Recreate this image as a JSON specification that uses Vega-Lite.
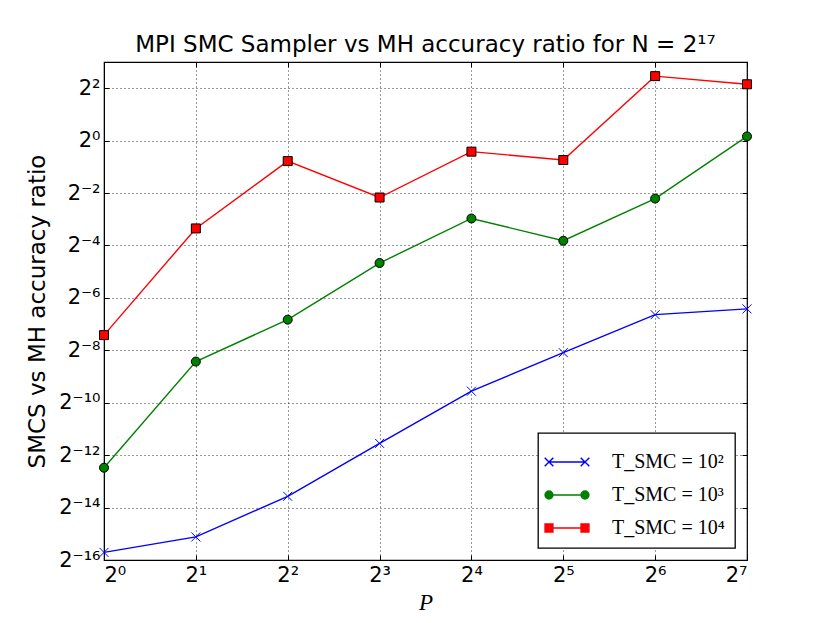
{
  "$schema": "https://vega.github.io/schema/vega-lite/v6.json",
  "autosize": {"type": "none"},
  "padding": {"left": 104, "top": 62, "right": 83, "bottom": 63},
  "width": 643,
  "height": 498,
  "background": "white",
  "title": {
    "text": "MPI SMC Sampler vs MH accuracy ratio for N = 2¹⁷",
    "font": "DejaVu Sans",
    "fontSize": 23,
    "fontWeight": "normal",
    "color": "black",
    "offset": 5
  },
  "config": {
    "view": {"stroke": "black", "strokeWidth": 1.2},
    "axis": {
      "labelFont": "DejaVu Sans",
      "labelFontSize": 21,
      "labelColor": "black",
      "titleFont": "DejaVu Sans",
      "titleFontSize": 23,
      "titleFontWeight": "normal",
      "titleColor": "black",
      "grid": true,
      "gridColor": "black",
      "gridDash": [1, 3],
      "gridWidth": 0.8,
      "gridOpacity": 1,
      "domainColor": "black",
      "tickColor": "black",
      "tickSize": -5,
      "labelPadding": 9
    }
  },
  "data": {
    "values": [
      {"P": 1, "ratio": 0.000018656, "series": "T_SMC = 10²"},
      {"P": 2, "ratio": 0.000028086, "series": "T_SMC = 10²"},
      {"P": 4, "ratio": 0.000082227, "series": "T_SMC = 10²"},
      {"P": 8, "ratio": 0.0003335, "series": "T_SMC = 10²"},
      {"P": 16, "ratio": 0.0013248, "series": "T_SMC = 10²"},
      {"P": 32, "ratio": 0.00367, "series": "T_SMC = 10²"},
      {"P": 64, "ratio": 0.010027, "series": "T_SMC = 10²"},
      {"P": 128, "ratio": 0.011678, "series": "T_SMC = 10²"},
      {"P": 1, "ratio": 0.00017508, "series": "T_SMC = 10³"},
      {"P": 2, "ratio": 0.0028996, "series": "T_SMC = 10³"},
      {"P": 4, "ratio": 0.00879, "series": "T_SMC = 10³"},
      {"P": 8, "ratio": 0.039281, "series": "T_SMC = 10³"},
      {"P": 16, "ratio": 0.12763, "series": "T_SMC = 10³"},
      {"P": 32, "ratio": 0.070806, "series": "T_SMC = 10³"},
      {"P": 64, "ratio": 0.21613, "series": "T_SMC = 10³"},
      {"P": 128, "ratio": 1.1173, "series": "T_SMC = 10³"},
      {"P": 1, "ratio": 0.005839, "series": "T_SMC = 10⁴"},
      {"P": 2, "ratio": 0.098075, "series": "T_SMC = 10⁴"},
      {"P": 4, "ratio": 0.5824, "series": "T_SMC = 10⁴"},
      {"P": 8, "ratio": 0.2222, "series": "T_SMC = 10⁴"},
      {"P": 16, "ratio": 0.7474, "series": "T_SMC = 10⁴"},
      {"P": 32, "ratio": 0.5987, "series": "T_SMC = 10⁴"},
      {"P": 64, "ratio": 5.502, "series": "T_SMC = 10⁴"},
      {"P": 128, "ratio": 4.4385, "series": "T_SMC = 10⁴"}
    ]
  },
  "layer": [
    {
      "mark": {"type": "line", "strokeWidth": 1.4},
      "encoding": {
        "x": {
          "field": "P",
          "type": "quantitative",
          "scale": {"type": "log", "base": 2, "domain": [1, 128], "nice": false},
          "axis": {
            "values": [1, 2, 4, 8, 16, 32, 64, 128],
            "title": "P",
            "titleFont": "Liberation Serif",
            "titleFontStyle": "italic",
            "titleFontSize": 23,
            "titlePadding": 6,
            "labelExpr": "'2' + ['⁰','¹','²','³','⁴','⁵','⁶','⁷','⁸','⁹'][round(log(datum.value)/LN2)]"
          }
        },
        "y": {
          "field": "ratio",
          "type": "quantitative",
          "scale": {"type": "log", "base": 2, "domain": [0.0000152587890625, 8], "nice": false},
          "axis": {
            "values": [0.0000152587890625, 0.00006103515625, 0.000244140625, 0.0009765625, 0.00390625, 0.015625, 0.0625, 0.25, 1, 4],
            "title": "SMCS vs MH accuracy ratio",
            "titlePadding": 9,
            "labelExpr": "'2' + (round(log(datum.value)/LN2) < 0 ? '⁻' : '') + (abs(round(log(datum.value)/LN2)) >= 10 ? ['⁰','¹','²','³','⁴','⁵','⁶','⁷','⁸','⁹'][floor(abs(round(log(datum.value)/LN2))/10)] : '') + ['⁰','¹','²','³','⁴','⁵','⁶','⁷','⁸','⁹'][abs(round(log(datum.value)/LN2)) % 10]"
          }
        },
        "color": {
          "field": "series",
          "type": "nominal",
          "scale": {
            "domain": ["T_SMC = 10²", "T_SMC = 10³", "T_SMC = 10⁴"],
            "range": ["#0000ff", "#008000", "#ff0000"]
          },
          "legend": {
            "title": null,
            "orient": "bottom-right",
            "offset": 12,
            "padding": 10,
            "strokeColor": "black",
            "fillColor": "white",
            "cornerRadius": 0,
            "symbolSize": 1296,
            "labelFont": "Liberation Serif",
            "labelFontSize": 20,
            "labelColor": "black",
            "labelOffset": 26,
            "rowPadding": 4,
            "encode": {
              "legend": {
                "update": {"strokeWidth": {"value": 1.3}}
              },
              "symbols": {
                "update": {
                  "shape": {"signal": "indexof(datum.value, '²') >= 0 ? 'M-1,0L1,0M-1.24,-0.24L-0.76,0.24M-1.24,0.24L-0.76,-0.24M0.76,-0.24L1.24,0.24M0.76,0.24L1.24,-0.24' : indexof(datum.value, '³') >= 0 ? 'M-1,0L1,0M-0.78,0A0.22,0.22,0,1,1,-1.22,0A0.22,0.22,0,1,1,-0.78,0ZM1.22,0A0.22,0.22,0,1,1,0.78,0A0.22,0.22,0,1,1,1.22,0Z' : 'M-1,0L1,0M-1.22,-0.22L-0.78,-0.22L-0.78,0.22L-1.22,0.22ZM0.78,-0.22L1.22,-0.22L1.22,0.22L0.78,0.22Z'"},
                  "fill": {"signal": "indexof(datum.value, '²') >= 0 ? 'transparent' : indexof(datum.value, '³') >= 0 ? '#008000' : '#ff0000'"},
                  "stroke": {"signal": "indexof(datum.value, '²') >= 0 ? '#0000ff' : indexof(datum.value, '³') >= 0 ? '#008000' : '#ff0000'"},
                  "strokeWidth": {"value": 1.4},
                  "opacity": {"value": 1}
                }
              }
            }
          }
        }
      }
    },
    {
      "transform": [{"filter": "datum.series == 'T_SMC = 10²'"}],
      "mark": {"type": "point", "shape": "M-1,-1L1,1M-1,1L1,-1", "size": 81, "filled": false, "stroke": "#0000ff", "strokeWidth": 1, "opacity": 1},
      "encoding": {
        "x": {"field": "P", "type": "quantitative", "scale": {"type": "log", "base": 2, "domain": [1, 128], "nice": false}, "axis": null},
        "y": {"field": "ratio", "type": "quantitative", "scale": {"type": "log", "base": 2, "domain": [0.0000152587890625, 8], "nice": false}, "axis": null}
      }
    },
    {
      "transform": [{"filter": "datum.series == 'T_SMC = 10³'"}],
      "mark": {"type": "point", "shape": "circle", "size": 81, "filled": true, "fill": "#008000", "stroke": "black", "strokeWidth": 1, "opacity": 1},
      "encoding": {
        "x": {"field": "P", "type": "quantitative", "scale": {"type": "log", "base": 2, "domain": [1, 128], "nice": false}, "axis": null},
        "y": {"field": "ratio", "type": "quantitative", "scale": {"type": "log", "base": 2, "domain": [0.0000152587890625, 8], "nice": false}, "axis": null}
      }
    },
    {
      "transform": [{"filter": "datum.series == 'T_SMC = 10⁴'"}],
      "mark": {"type": "point", "shape": "square", "size": 81, "filled": true, "fill": "#ff0000", "stroke": "black", "strokeWidth": 1, "opacity": 1},
      "encoding": {
        "x": {"field": "P", "type": "quantitative", "scale": {"type": "log", "base": 2, "domain": [1, 128], "nice": false}, "axis": null},
        "y": {"field": "ratio", "type": "quantitative", "scale": {"type": "log", "base": 2, "domain": [0.0000152587890625, 8], "nice": false}, "axis": null}
      }
    },
    {
      "mark": {"type": "point", "opacity": 0},
      "encoding": {
        "x": {
          "field": "P", "type": "quantitative",
          "scale": {"type": "log", "base": 2, "domain": [1, 128], "nice": false},
          "axis": {"orient": "top", "values": [1, 2, 4, 8, 16, 32, 64, 128], "labels": false, "title": null, "grid": false, "domain": false}
        },
        "y": {
          "field": "ratio", "type": "quantitative",
          "scale": {"type": "log", "base": 2, "domain": [0.0000152587890625, 8], "nice": false},
          "axis": {"orient": "right", "values": [0.0000152587890625, 0.00006103515625, 0.000244140625, 0.0009765625, 0.00390625, 0.015625, 0.0625, 0.25, 1, 4], "labels": false, "title": null, "grid": false, "domain": false}
        }
      }
    }
  ],
  "resolve": {"axis": {"x": "independent", "y": "independent"}}
}
